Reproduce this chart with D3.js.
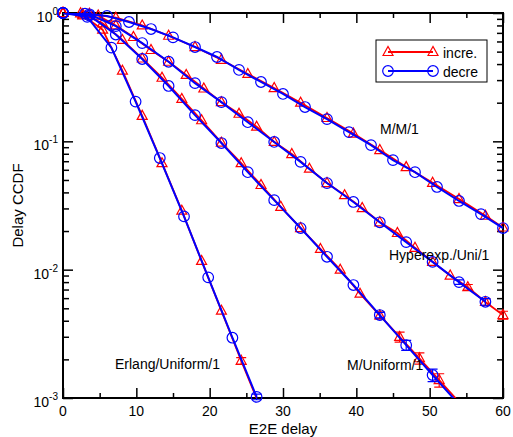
<!DOCTYPE html>
<html>
<head>
<meta charset="utf-8">
<script src="https://cdn.jsdelivr.net/npm/d3@7"></script>
<style>
  body { margin: 0; background: #fff; }
  svg { display: block; }
  text { font-family: "Liberation Sans", Arial, Helvetica, sans-serif; fill: #000; }
</style>
</head>
<body>
<svg id="chart" width="513" height="437"></svg>
<script>
/* ============ DATA ============ */

// tick values
var xMajorTicks = [0, 10, 20, 30, 40, 50, 60];
var xMinorTicks = [5, 15, 25, 35, 45, 55];
var yDecades = [1e-3, 1e-2, 1e-1, 1];
var yDecadeExp = ['-3', '-2', '-1', '0'];

// M/M/1
var mm1RedX = [0, 3.6, 7.2, 10.8, 14.4, 18, 21.6, 25.2, 28.8, 32.4, 36, 39.6, 43.2, 46.8, 50.4, 54, 57.6, 60];
var mm1RedY = [1, 0.985, 0.92, 0.80, 0.665, 0.543, 0.432, 0.335, 0.260, 0.200, 0.152, 0.115, 0.0855, 0.063, 0.0475, 0.0355, 0.0263, 0.0213];
var mm1BlueX = [0, 3, 6, 9, 12, 15, 18, 21, 24, 27, 30, 33, 36, 39, 42, 45, 48, 51, 54, 57, 60];
var mm1BlueY = [1, 0.989, 0.948, 0.851, 0.750, 0.646, 0.543, 0.454, 0.360, 0.290, 0.234, 0.185, 0.149, 0.118, 0.0935, 0.0714, 0.0575, 0.0441, 0.0343, 0.0271, 0.0211];

// Hyperexp./Uni/1
var hypRedX = [0, 2.4, 4.8, 7.2, 9.6, 12, 14.4, 16.8, 19.2, 21.6, 24, 26.4, 28.8, 31.2, 33.6, 36, 38.4, 40.8, 43.2, 45.6, 48, 50.4, 52.8, 55.2, 57.6, 60];
var hypRedY = [1, 0.995, 0.955, 0.80, 0.650, 0.515, 0.417, 0.329, 0.258, 0.202, 0.164, 0.130, 0.0989, 0.0796, 0.0612, 0.0473, 0.0381, 0.0302, 0.0234, 0.0193, 0.0148, 0.0115, 0.0090, 0.0073, 0.0056, 0.00443];
var hypRedErr = [0, 0, 0, 0, 0, 0, 0, 0, 0, 0, 0, 0, 0, 0, 0, 0, 0, 0, 0, 0, 0, 0, 0, 0.05, 0.06, 0.07];
var hypBlueX = [0, 3.6, 7.2, 10.8, 14.4, 18, 21.6, 25.2, 28.8, 32.4, 36, 39.6, 43.2, 46.8, 50.4, 54, 57.6];
var hypBlueY = [1, 0.977, 0.79, 0.583, 0.417, 0.284, 0.202, 0.141, 0.0989, 0.0692, 0.0473, 0.0337, 0.0234, 0.0164, 0.0115, 0.0080, 0.00562];
var hypBlueErr = [0, 0, 0, 0, 0, 0, 0, 0, 0, 0, 0, 0, 0, 0, 0, 0.04, 0.06];

// M/Uniform/1
var muniRedX = [0, 2.7, 5.4, 8.1, 10.8, 13.5, 16.2, 18.9, 21.6, 24.3, 27, 29.7, 32.4, 35.1, 37.8, 40.5, 43.2, 45.9, 48.6, 51.3, 54];
var muniRedY = [1, 0.977, 0.83, 0.617, 0.442, 0.313, 0.214, 0.146, 0.0977, 0.0676, 0.0457, 0.0309, 0.0211, 0.0145, 0.0100, 0.0065, 0.0044, 0.00299, 0.00204, 0.00138, 0.00093];
var muniRedErr = [0, 0, 0, 0, 0, 0, 0, 0, 0, 0, 0, 0, 0, 0, 0, 0, 0.06, 0.09, 0.10, 0.12, 0];
var muniBlueX = [0, 3.6, 7.2, 10.8, 14.4, 18, 21.6, 25.2, 28.8, 32.4, 36, 39.6, 43.2, 46.8, 50.4, 54];
var muniBlueY = [1, 0.955, 0.68, 0.438, 0.270, 0.160, 0.0970, 0.0575, 0.0348, 0.0211, 0.0126, 0.00759, 0.00443, 0.00258, 0.00151, 0.00089];
var muniBlueErr = [0, 0, 0, 0, 0, 0, 0, 0, 0, 0, 0, 0, 0.05, 0.09, 0.11, 0];

// Erlang/Uniform/1
var erlRedX = [0, 2.7, 5.4, 8.1, 10.8, 13.5, 16.2, 18.9, 21.6, 24.3, 27];
var erlRedY = [1, 0.96, 0.741, 0.355, 0.158, 0.0676, 0.0288, 0.0117, 0.00479, 0.00195, 0.00082];
var erlRedErr = [0, 0, 0, 0, 0, 0, 0, 0, 0, 0.06, 0];
var erlBlueX = [0, 3.3, 6.6, 9.9, 13.2, 16.5, 19.8, 23.1, 26.4];
var erlBlueY = [1, 0.933, 0.537, 0.204, 0.0741, 0.0260, 0.00871, 0.00295, 0.00102];
var erlBlueErr = [0, 0, 0, 0, 0, 0, 0, 0, 0.05];

var legendNames = ['incre.', 'decre'];

(function (d3) {
  var RED = '#ff0000';
  var BLUE = '#0000ff';

  var svg = d3.select('#chart');
  var left = 63, right = 503, top = 13, bottom = 398;

  var x = d3.scaleLinear().domain([0, 60]).range([left, right]);
  var y = d3.scaleLog().domain([1e-3, 1]).range([bottom, top]);

  function zip(xs, ys, errs) {
    return xs.map(function (v, i) {
      return { x: v, y: ys[i], e: errs ? errs[i] : 0 };
    });
  }

  // red (incre.) first, blue (decre) on top
  var series = [
    { pts: zip(mm1RedX, mm1RedY), color: RED, shape: 'tri' },
    { pts: zip(hypRedX, hypRedY, hypRedErr), color: RED, shape: 'tri' },
    { pts: zip(muniRedX, muniRedY, muniRedErr), color: RED, shape: 'tri' },
    { pts: zip(erlRedX, erlRedY, erlRedErr), color: RED, shape: 'tri' },
    { pts: zip(mm1BlueX, mm1BlueY), color: BLUE, shape: 'circ' },
    { pts: zip(hypBlueX, hypBlueY, hypBlueErr), color: BLUE, shape: 'circ' },
    { pts: zip(muniBlueX, muniBlueY, muniBlueErr), color: BLUE, shape: 'circ' },
    { pts: zip(erlBlueX, erlBlueY, erlBlueErr), color: BLUE, shape: 'circ' }
  ];

  /* ============ AXES ============ */
  function axisG(axis) {
    var g = svg.append('g').call(axis);
    g.select('.domain').remove();
    g.selectAll('line').attr('stroke', '#000').attr('stroke-width', 1.5);
    g.selectAll('text').remove();
    return g;
  }

  axisG(d3.axisBottom(x).tickValues(xMajorTicks).tickSize(-10)).attr('transform', 'translate(0,' + bottom + ')');
  axisG(d3.axisBottom(x).tickValues(xMinorTicks).tickSize(-5)).attr('transform', 'translate(0,' + bottom + ')');
  axisG(d3.axisTop(x).tickValues(xMajorTicks).tickSize(-10)).attr('transform', 'translate(0,' + top + ')');
  axisG(d3.axisTop(x).tickValues(xMinorTicks).tickSize(-5)).attr('transform', 'translate(0,' + top + ')');

  var yMinor = [];
  yDecades.slice(0, 3).forEach(function (d) {
    for (var k = 2; k <= 9; k++) yMinor.push(d * k);
  });
  axisG(d3.axisLeft(y).tickValues(yDecades).tickSize(-10)).attr('transform', 'translate(' + left + ',0)');
  axisG(d3.axisLeft(y).tickValues(yMinor).tickSize(-6)).attr('transform', 'translate(' + left + ',0)');
  axisG(d3.axisRight(y).tickValues(yDecades).tickSize(-10)).attr('transform', 'translate(' + right + ',0)');
  axisG(d3.axisRight(y).tickValues(yMinor).tickSize(-6)).attr('transform', 'translate(' + right + ',0)');

  svg.append('rect')
    .attr('x', left).attr('y', top)
    .attr('width', right - left).attr('height', bottom - top)
    .attr('fill', 'none').attr('stroke', '#000').attr('stroke-width', 2);

  // tick labels
  svg.append('g').selectAll('text')
    .data(xMajorTicks)
    .join('text')
    .attr('x', function (d) { return x(d); })
    .attr('y', 416)
    .attr('text-anchor', 'middle')
    .style('font-size', '14px')
    .text(function (d) { return d; });

  var yl = svg.append('g').selectAll('text')
    .data(yDecades)
    .join('text')
    .attr('x', 58)
    .attr('y', function (d) { return y(d) + 9; })
    .attr('text-anchor', 'end')
    .style('font-size', '14px');
  yl.append('tspan').text('10');
  yl.append('tspan')
    .attr('dy', -7)
    .style('font-size', '10px')
    .text(function (d, i) { return yDecadeExp[i]; });

  svg.append('text')
    .attr('x', (left + right) / 2).attr('y', 434)
    .attr('text-anchor', 'middle')
    .style('font-size', '15px')
    .text('E2E delay');

  svg.append('text')
    .attr('transform', 'translate(23,' + ((top + bottom) / 2) + ') rotate(-90)')
    .attr('text-anchor', 'middle')
    .style('font-size', '15px')
    .text('Delay CCDF');

  /* ============ CURVES ============ */
  svg.append('clipPath').attr('id', 'plotclip')
    .append('rect')
    .attr('x', left).attr('y', top)
    .attr('width', right - left).attr('height', bottom - top);

  var line = d3.line()
    .x(function (d) { return x(d.x); })
    .y(function (d) { return y(d.y); });

  function triPath(cx, cy) {
    return 'M' + (cx - 5) + ',' + (cy + 3.5) + 'L' + cx + ',' + (cy - 5.5) + 'L' + (cx + 5) + ',' + (cy + 3.5) + 'Z';
  }

  function drawMarker(g, shape, color, cx, cy) {
    if (shape === 'tri') {
      g.append('path').attr('d', triPath(cx, cy))
        .attr('fill', 'none').attr('stroke', color).attr('stroke-width', 1.2);
    } else {
      g.append('circle').attr('cx', cx).attr('cy', cy).attr('r', 5.3)
        .attr('fill', 'none').attr('stroke', color).attr('stroke-width', 1.2);
    }
  }

  series.forEach(function (s) {
    var g = svg.append('g');
    g.append('path')
      .datum(s.pts)
      .attr('clip-path', 'url(#plotclip)')
      .attr('d', line)
      .attr('fill', 'none')
      .attr('stroke', s.color)
      .attr('stroke-width', s.color === BLUE ? 2 : 1.8);

    s.pts.filter(function (d) { return d.y >= 1e-3; }).forEach(function (d) {
      var cx = x(d.x), cy = y(d.y);
      if (d.e > 0) {
        var y0 = y(d.y * (1 + d.e)), y1 = y(d.y * (1 - d.e));
        g.append('path')
          .attr('d', 'M' + cx + ',' + y0 + 'V' + y1 +
            'M' + (cx - 5) + ',' + y0 + 'H' + (cx + 5) +
            'M' + (cx - 5) + ',' + y1 + 'H' + (cx + 5))
          .attr('fill', 'none').attr('stroke', s.color).attr('stroke-width', 1.2);
      }
      drawMarker(g, s.shape, s.color, cx, cy);
    });
  });

  /* ============ ANNOTATIONS ============ */
  var notes = [
    { t: 'M/M/1', x: 380, y: 134 },
    { t: 'Hyperexp./Uni/1', x: 389, y: 260 },
    { t: 'Erlang/Uniform/1', x: 115, y: 369 },
    { t: 'M/Uniform/1', x: 347, y: 370 }
  ];
  svg.append('g').selectAll('text')
    .data(notes)
    .join('text')
    .attr('x', function (d) { return d.x; })
    .attr('y', function (d) { return d.y; })
    .style('font-size', '14px')
    .text(function (d) { return d.t; });

  /* ============ LEGEND ============ */
  var lg = svg.append('g');
  lg.append('rect')
    .attr('x', 376).attr('y', 40).attr('width', 111).attr('height', 42)
    .attr('fill', '#fff').attr('stroke', '#000').attr('stroke-width', 1);
  [{ c: RED, s: 'tri', y: 52 }, { c: BLUE, s: 'circ', y: 71 }].forEach(function (e, i) {
    lg.append('line')
      .attr('x1', 388).attr('x2', 433).attr('y1', e.y).attr('y2', e.y)
      .attr('stroke', e.c).attr('stroke-width', 1.8);
    drawMarker(lg, e.s, e.c, 388, e.y);
    drawMarker(lg, e.s, e.c, 433, e.y);
    lg.append('text')
      .attr('x', 443).attr('y', e.y + 6)
      .style('font-size', '14px')
      .text(legendNames[i]);
  });
}(window.d3));
</script>
</body>
</html>
